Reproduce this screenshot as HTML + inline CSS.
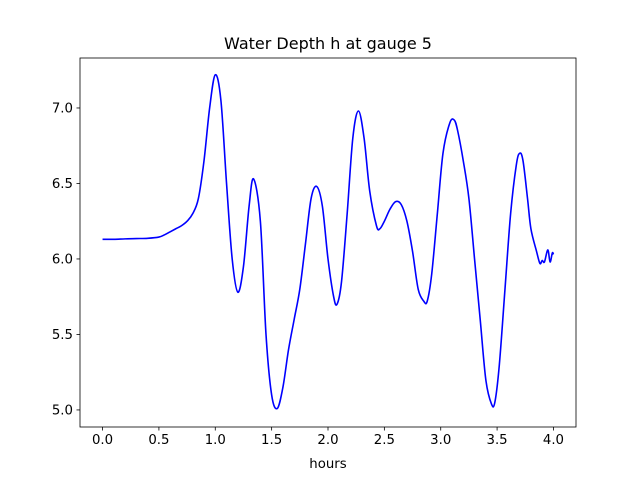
<!DOCTYPE html>
<html><head><meta charset="utf-8"><style>
body{margin:0;background:#fff;}
svg{display:block;font-family:"DejaVu Sans","Liberation Sans",sans-serif;}
</style></head><body>
<svg width="640" height="480" viewBox="0 0 640 480" xmlns="http://www.w3.org/2000/svg">
<rect width="640" height="480" fill="#fff"/>
<g id="plot"></g>
</svg>
<script>
const times=[0,0.1,0.2,0.3,0.4,0.5,0.55,0.6,0.65,0.7,0.75,0.8,0.85,0.9,0.95,1.0,1.05,1.1,1.15,1.2,1.25,1.3,1.34,1.4,1.45,1.5,1.55,1.6,1.65,1.7,1.75,1.8,1.85,1.9,1.95,2.0,2.05,2.08,2.12,2.17,2.22,2.27,2.32,2.37,2.43,2.46,2.5,2.55,2.6,2.65,2.7,2.75,2.8,2.85,2.88,2.92,2.97,3.02,3.08,3.12,3.15,3.2,3.25,3.3,3.35,3.4,3.45,3.48,3.52,3.57,3.62,3.67,3.7,3.73,3.77,3.8,3.85,3.88,3.9,3.92,3.95,3.97,3.99,4.0];
const depths=[6.13,6.13,6.133,6.135,6.137,6.145,6.16,6.18,6.2,6.22,6.25,6.3,6.4,6.65,7.0,7.22,7.05,6.5,6.0,5.78,5.95,6.35,6.53,6.25,5.5,5.1,5.01,5.15,5.4,5.6,5.8,6.1,6.4,6.48,6.35,6.0,5.75,5.7,5.85,6.3,6.8,6.98,6.8,6.45,6.22,6.2,6.25,6.33,6.38,6.36,6.25,6.05,5.8,5.72,5.72,5.9,6.3,6.7,6.9,6.92,6.85,6.65,6.4,6.0,5.6,5.2,5.04,5.05,5.3,5.8,6.3,6.62,6.7,6.65,6.4,6.2,6.05,5.97,5.99,5.98,6.06,5.98,6.04,6.03];
const xTicks=[0,0.5,1,1.5,2,2.5,3,3.5,4];
const xTickLabels=["0.0","0.5","1.0","1.5","2.0","2.5","3.0","3.5","4.0"];
const yTicks=[5,5.5,6,6.5,7];
const yTickLabels=["5.0","5.5","6.0","6.5","7.0"];

const L=80,R=576,T=58,B=427;
const xmin=-0.2,xmax=4.2,ymin=4.887,ymax=7.331;
const X=v=>L+(v-xmin)/(xmax-xmin)*(R-L);
const Y=v=>B-(v-ymin)/(ymax-ymin)*(B-T);
const NS="http://www.w3.org/2000/svg";
const g=document.getElementById('plot');
function mk(tag,attrs){const e=document.createElementNS(NS,tag);for(const k in attrs)e.setAttribute(k,attrs[k]);g.appendChild(e);return e;}

// line (Catmull-Rom smoothing)
const pts=times.map((t,i)=>[X(t),Y(depths[i])]);
let d="M"+pts[0][0]+","+pts[0][1];
for(let i=0;i<pts.length-1;i++){
  const p0=pts[Math.max(0,i-1)],p1=pts[i],p2=pts[i+1],p3=pts[Math.min(pts.length-1,i+2)];
  const c1=[p1[0]+(p2[0]-p0[0])/6,p1[1]+(p2[1]-p0[1])/6];
  const c2=[p2[0]-(p3[0]-p1[0])/6,p2[1]-(p3[1]-p1[1])/6];
  d+=" C"+c1[0]+","+c1[1]+" "+c2[0]+","+c2[1]+" "+p2[0]+","+p2[1];
}
const line=mk('path',{d:d,fill:'none',stroke:'#0000ff','stroke-width':1.6});



const frame=mk('rect',{x:L,y:T,width:R-L,height:B-T,fill:'none',stroke:'#000','stroke-width':0.8});



xTicks.forEach((v,i)=>{
  const x=X(v);
  const tk=mk('line',{x1:x,x2:x,y1:B,y2:B+3.5,stroke:'#000','stroke-width':0.8});
  
  
  const tx=mk('text',{x:x,y:B+17,'font-size':'13.3','text-anchor':'middle',fill:'#000'});
  tx.textContent=xTickLabels[i];
  
  
});
yTicks.forEach((v,i)=>{
  const y=Y(v);
  const tk=mk('line',{x1:L-3.5,x2:L,y1:y,y2:y,stroke:'#000','stroke-width':0.8});
  
  
  const tx=mk('text',{x:L-7,y:y+4.5,'font-size':'13.3','text-anchor':'end',fill:'#000'});
  tx.textContent=yTickLabels[i];
  
  
});
const xl=mk('text',{x:(L+R)/2,y:468,'font-size':'13.3','text-anchor':'middle',fill:'#000'});
xl.textContent="hours";


const ti=mk('text',{x:(L+R)/2,y:49,'font-size':'16','text-anchor':'middle',fill:'#000'});
ti.textContent="Water Depth h at gauge 5";


</script>
</body></html>
